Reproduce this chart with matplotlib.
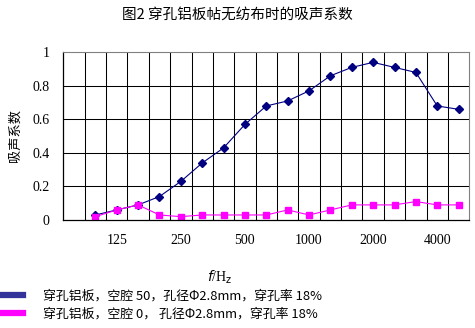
import matplotlib
matplotlib.use("Agg")
import matplotlib.pyplot as plt
from matplotlib.lines import Line2D

plt.rcParams['font.family'] = ['Noto Sans CJK SC', 'DejaVu Sans']

# 1/3-octave categories (first category slot is empty)
categories = ['', '100', '125', '160', '200', '250', '315', '400', '500', '630',
              '800', '1000', '1250', '1600', '2000', '2500', '3150', '4000', '5000']
shown_labels = ['125', '250', '500', '1000', '2000', '4000']

cavity50 = [0.03, 0.06, 0.09, 0.14, 0.23, 0.34, 0.43, 0.57, 0.68, 0.71,
            0.77, 0.86, 0.91, 0.94, 0.91, 0.88, 0.68, 0.66]
cavity0 = [0.02, 0.06, 0.09, 0.03, 0.02, 0.03, 0.03, 0.03, 0.03, 0.06,
           0.03, 0.06, 0.09, 0.09, 0.09, 0.11, 0.09, 0.09]

title = '图2 穿孔铝板帖无纺布时的吸声系数'
ylabel = '吸声系数'
legend_labels = ['穿孔铝板，空腔 50，孔径Φ2.8mm，穿孔率 18%',
                 '穿孔铝板，空腔 0， 孔径Φ2.8mm，穿孔率 18%']

blue = '#000080'
pink = '#FF00FF'

fig = plt.figure(figsize=(4.75, 3.28), dpi=100)
ax = fig.add_axes([63.3/475, 1-220/328, (469.3-63.3)/475, (220-52.3)/328])

xs = list(range(1, len(categories)))
ax.plot(xs, cavity50, color=blue, lw=0.8, marker='D', ms=3.6, mfc=blue, mec=blue)
ax.plot(xs, cavity0, color=pink, lw=0.8, marker='s', ms=4.2, mfc=pink, mec=pink)

ax.set_xlim(-0.5, len(categories) - 0.5)
ax.set_ylim(0, 1)

# grid: category boundaries and y every 0.2
for k in range(len(categories) - 1):
    ax.axvline(k + 0.5, color='black', lw=0.75, zorder=0)
for yv in [0.2, 0.4, 0.6, 0.8]:
    ax.axhline(yv, color='black', lw=0.75, zorder=0)

ax.set_xticks([categories.index(l) for l in shown_labels])
ax.set_xticklabels(shown_labels, fontfamily='Liberation Serif', fontsize=10)
ax.set_yticks([0, 0.2, 0.4, 0.6, 0.8, 1])
ax.set_yticklabels(['0', '0.2', '0.4', '0.6', '0.8', '1'], fontfamily='Liberation Serif', fontsize=10)
ax.tick_params(axis='x', length=0, pad=10)
ax.tick_params(axis='y', length=0, pad=10)

for s in ['top', 'right']:
    ax.spines[s].set_color('#808080')
    ax.spines[s].set_linewidth(0.8)
for s in ['left', 'bottom']:
    ax.spines[s].set_color('black')
    ax.spines[s].set_linewidth(0.9)

fig.text(237.5/475, 1-15/328, title, ha='center', va='center', fontsize=10.5)
fig.text(15/475, 1-135/328, ylabel, ha='center', va='center', rotation=90, fontsize=9.5)
fig.text(220/475, 1-277/328, r'$f$/H$_\mathrm{z}$', ha='center', va='center', fontsize=10,
         fontfamily='Liberation Serif')

handles = [Line2D([], [], color='#333399', lw=4.5), Line2D([], [], color=pink, lw=4.5)]
fig.legend(handles, legend_labels, loc='upper left', bbox_to_anchor=(0.0, 1-290/328),
           frameon=False, fontsize=9.3, handlelength=1.8, handletextpad=1.5,
           labelspacing=0.32, borderaxespad=0, borderpad=0)

fig.savefig('out.png', dpi=100)
